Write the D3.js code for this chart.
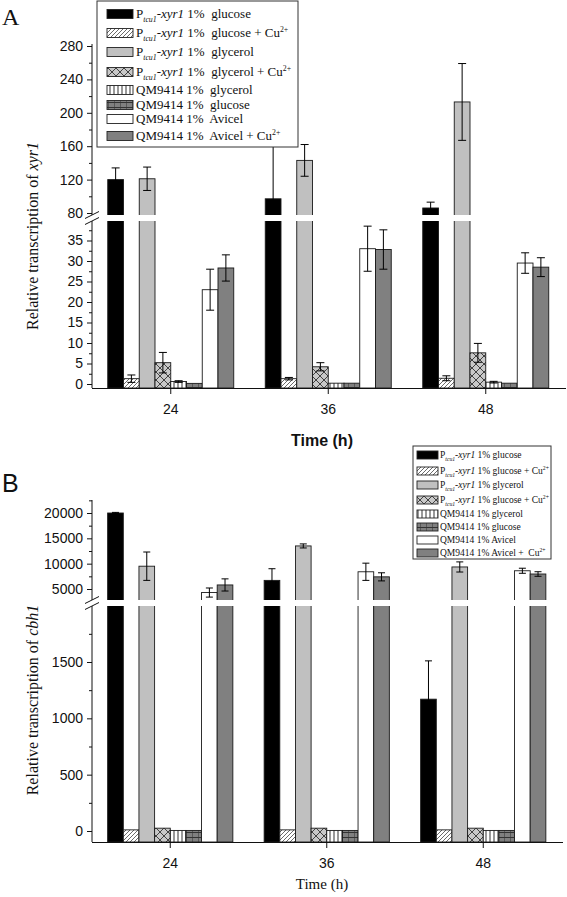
<!DOCTYPE html>
<html><head><meta charset="utf-8">
<script src="https://cdn.jsdelivr.net/npm/d3@7"></script>
<style>body{margin:0;background:#fff} svg{display:block}</style>
</head><body>
<script>
// ---------------- DATA ----------------
const times = ["24", "36", "48"];
const seriesKeys = ["tcuGlc", "tcuGlcCu", "tcuGly", "tcuGlyCu", "qmGly", "qmGlc", "qmAvi", "qmAviCu"];

// Panel A: relative transcription of xyr1 (rows = time, cols = series)
const xyr1Values = [
  [120, 1.3, 121, 5.2, 0.6, 0.15, 23, 28.3],
  [97, 1.3, 143, 4.2, 0.2, 0.2, 33, 32.8],
  [86, 1.4, 213, 7.6, 0.45, 0.2, 29.5, 28.5]
];
const xyr1Errors = [
  [14, 0.9, 14, 2.5, 0.2, 0, 5, 3.2],
  [63, 0.3, 19, 1.0, 0, 0, 5.5, 4.8],
  [7, 0.6, 46, 2.3, 0.2, 0, 2.5, 2.3]
];
// Panel B: relative transcription of cbh1
const cbh1Values = [
  [20000, 10, 9500, 25, 5, 5, 4300, 5800],
  [6700, 10, 13500, 25, 5, 5, 8400, 7400],
  [1170, 10, 9350, 25, 5, 5, 8600, 7960]
];
const cbh1Errors = [
  [120, 0, 2800, 0, 0, 0, 900, 1200],
  [2300, 0, 400, 0, 0, 0, 1700, 800],
  [340, 0, 1000, 0, 0, 0, 500, 450]
];

const xyr1LowTicks = [0, 5, 10, 15, 20, 25, 30, 35];
const xyr1LowMinor = [2.5, 7.5, 12.5, 17.5, 22.5, 27.5, 32.5, 37.5];
const xyr1HighTicks = [80, 120, 160, 200, 240, 280];
const xyr1HighMinor = [100, 140, 180, 220, 260];
const cbh1LowTicks = [0, 500, 1000, 1500];
const cbh1LowMinor = [250, 750, 1250, 1750];
const cbh1HighTicks = [5000, 10000, 15000, 20000];
const cbh1HighMinor = [7500, 12500, 17500, 22500];

// legend labels: [text, style]  style: "" normal, i italic, sub subscript, sup superscript
const legendLabelsA = [
  [["P", ""], ["tcu1", "sub"], ["-xyr1", "i"], [" 1%  glucose", ""]],
  [["P", ""], ["tcu1", "sub"], ["-xyr1", "i"], [" 1%  glucose + Cu", ""], ["2+", "sup"]],
  [["P", ""], ["tcu1", "sub"], ["-xyr1", "i"], [" 1%  glycerol", ""]],
  [["P", ""], ["tcu1", "sub"], ["-xyr1", "i"], [" 1%  glycerol + Cu", ""], ["2+", "sup"]],
  [["QM9414 1%  glycerol", ""]],
  [["QM9414 1%  glucose", ""]],
  [["QM9414 1%  Avicel", ""]],
  [["QM9414 1%  Avicel + Cu", ""], ["2+", "sup"]]
];
const legendLabelsB = [
  [["P", ""], ["tcu1", "sub"], ["-xyr1", "i"], [" 1% glucose", ""]],
  [["P", ""], ["tcu1", "sub"], ["-xyr1", "i"], [" 1% glucose + Cu", ""], ["2+", "sup"]],
  [["P", ""], ["tcu1", "sub"], ["-xyr1", "i"], [" 1% glycerol", ""]],
  [["P", ""], ["tcu1", "sub"], ["-xyr1", "i"], [" 1% glucose + Cu", ""], ["2+", "sup"]],
  [["QM9414 1% glycerol", ""]],
  [["QM9414 1% glucose", ""]],
  [["QM9414 1% Avicel", ""]],
  [["QM9414 1% Avicel +  Cu", ""], ["2+", "sup"]]
];

// ---------------- DRAWING ----------------
const W = 567, H = 897;
const svg = d3.select("body").append("svg").attr("width", W).attr("height", H)
  .style("font-family", "'Liberation Sans', Arial, sans-serif");
const defs = svg.append("defs");
function pat(id, w, h, bg, d, sw, stroke) {
  const p = defs.append("pattern").attr("id", id).attr("patternUnits", "userSpaceOnUse")
    .attr("width", w).attr("height", h);
  p.append("rect").attr("width", w).attr("height", h).attr("fill", bg);
  p.append("path").attr("d", d).attr("stroke", stroke).attr("stroke-width", sw).attr("fill", "none");
}
pat("hatch", 4, 4, "#fff", "M-1,1L1,-1M0,4L4,0M3,5L5,3", 0.8, "#444");
pat("cross", 8, 8, "#c8c8c8", "M0,0L8,8M8,0L0,8", 0.9, "#333");
pat("vert", 4, 4, "#fff", "M2,0V4", 1, "#333");
pat("grid", 6, 5, "#808080", "M0,0V5M0,2.5H6", 1, "#333");
const fills = ["#000", "url(#hatch)", "#c0c0c0", "url(#cross)", "url(#vert)", "url(#grid)", "#fff", "#808080"];

function drawPanel(cfg) {
  const g = svg.append("g");
  const x0 = d3.scaleBand().domain(times).range(cfg.xRange).paddingInner(0.2).paddingOuter(0.1);
  const x1 = d3.scaleBand().domain(d3.range(seriesKeys.length)).range([0, x0.bandwidth()]);
  const yLow = d3.scaleLinear().domain(cfg.low.domain).range(cfg.low.range);
  const yHigh = d3.scaleLinear().domain(cfg.high.domain).range(cfg.high.range);
  const lowMax = yLow.invert(cfg.lowTop);
  const highMin = yHigh.invert(cfg.highBottom);
  const yOf = v => v <= lowMax ? yLow(v) : yHigh(v);
  const base = cfg.axisY;

  const cells = [];
  times.forEach((t, i) => cfg.values[i].forEach((v, j) => cells.push({t, j, v, e: cfg.errors[i][j]})));

  g.selectAll("rect.bar").data(cells).join("rect").attr("class", "bar")
    .attr("x", d => x0(d.t) + x1(d.j))
    .attr("width", x1.bandwidth())
    .attr("y", d => yOf(d.v))
    .attr("height", d => base - yOf(d.v))
    .attr("fill", d => fills[d.j])
    .attr("stroke", "#1a1a1a").attr("stroke-width", 0.9);

  // error bars
  const eb = g.selectAll("g.err").data(cells.filter(d => d.e > 0)).join("g").attr("class", "err")
    .attr("stroke", cfg.errColor).attr("stroke-width", 1);
  eb.each(function(d) {
    const cx = x0(d.t) + x1(d.j) + x1.bandwidth() / 2;
    const inHigh = d.v > lowMax;
    const sc = inHigh ? yHigh : yLow;
    const lo = inHigh ? Math.max(d.v - d.e, highMin) : Math.max(d.v - d.e, 0);
    const hi = d.v + d.e;
    const s = d3.select(this);
    s.append("line").attr("x1", cx).attr("x2", cx).attr("y1", sc(lo)).attr("y2", sc(hi));
    s.append("line").attr("x1", cx - cfg.cap).attr("x2", cx + cfg.cap).attr("y1", sc(hi)).attr("y2", sc(hi));
    if (lo === d.v - d.e)
      s.append("line").attr("x1", cx - cfg.cap).attr("x2", cx + cfg.cap).attr("y1", sc(lo)).attr("y2", sc(lo));
  });

  // axis break gap
  g.append("rect").attr("x", cfg.xRange[0] + 1).attr("y", cfg.highBottom)
    .attr("width", W - cfg.xRange[0]).attr("height", cfg.lowTop - cfg.highBottom).attr("fill", "#fff");

  // y axes
  const ax0 = cfg.xRange[0];
  function yAxis(scale, ticks, minor) {
    const a = g.append("g").attr("transform", `translate(${ax0},0)`)
      .call(d3.axisLeft(scale).tickValues(ticks).tickSize(5).tickPadding(4).tickFormat(d3.format("d")));
    a.select(".domain").remove();
    a.selectAll("text").attr("font-size", 14).attr("fill", "#111").attr("font-family", "'Liberation Sans', Arial, sans-serif");
    a.selectAll("line").attr("stroke", "#111");
    const m = g.append("g").attr("transform", `translate(${ax0},0)`)
      .call(d3.axisLeft(scale).tickValues(minor).tickSize(3).tickFormat(""));
    m.select(".domain").remove();
    m.selectAll("line").attr("stroke", "#111");
  }
  yAxis(yLow, cfg.low.ticks, cfg.low.minor);
  yAxis(yHigh, cfg.high.ticks, cfg.high.minor);
  g.append("line").attr("x1", ax0).attr("x2", ax0).attr("y1", base).attr("y2", cfg.lowTop).attr("stroke", "#111");
  g.append("line").attr("x1", ax0).attr("x2", ax0).attr("y1", cfg.highBottom).attr("y2", cfg.highTop).attr("stroke", "#111");
  // break marks
  [cfg.highBottom, cfg.lowTop].forEach(yy => {
    g.append("line").attr("x1", ax0 - 7).attr("y1", yy + 3.5).attr("x2", ax0 + 7).attr("y2", yy - 3.5)
      .attr("stroke", "#111").attr("stroke-width", 1);
  });

  // x axis
  const xa = g.append("g").attr("transform", `translate(0,${base})`)
    .call(d3.axisBottom(x0).tickSize(6).tickSizeOuter(0).tickPadding(10));
  xa.select(".domain").attr("stroke", "#111").attr("d", `M${ax0},0.5H${cfg.xEnd}`);
  xa.selectAll("text").attr("font-size", 14).attr("fill", "#111").attr("font-family", "'Liberation Sans', Arial, sans-serif");
  xa.selectAll("line").attr("stroke", "#111");

  // titles
  const yt = g.append("text").attr("transform", `translate(${cfg.yTitle[0]},${cfg.yTitle[1]}) rotate(-90)`)
    .attr("text-anchor", "middle").attr("font-family", "'Liberation Serif', 'Times New Roman', serif")
    .attr("font-size", cfg.yTitleSize).attr("fill", "#111");
  yt.append("tspan").text("Relative transcription of ");
  yt.append("tspan").attr("font-style", "italic").text(cfg.gene);

  g.append("text").attr("x", cfg.xTitle[0]).attr("y", cfg.xTitle[1]).attr("text-anchor", "middle")
    .attr("font-family", cfg.xTitleFont).attr("font-weight", cfg.xTitleWeight)
    .attr("font-size", cfg.xTitleSize).attr("fill", "#111").text("Time (h)");

  g.append("text").attr("x", cfg.letter[0]).attr("y", cfg.letter[1])
    .attr("font-family", cfg.letterFont).attr("font-size", cfg.letterSize).attr("fill", "#111").text(cfg.letterText);

  // legend
  const L = cfg.legend;
  const lg = g.append("g");
  lg.append("rect").attr("x", L.x).attr("y", L.y).attr("width", L.w).attr("height", L.h)
    .attr("fill", "#fff").attr("stroke", "#333").attr("stroke-width", 1);
  L.labels.forEach((parts, k) => {
    const cy = L.rows[k];
    lg.append("rect").attr("x", L.sx).attr("y", cy - L.sh / 2).attr("width", L.sw).attr("height", L.sh)
      .attr("fill", fills[k]).attr("stroke", "#222").attr("stroke-width", 0.9);
    const t = lg.append("text").attr("x", L.tx).attr("y", cy + L.fs * 0.33)
      .attr("font-family", "'Liberation Serif', 'Times New Roman', serif")
      .attr("font-size", L.fs).attr("fill", "#111").style("white-space", "pre");
    let shift = 0;
    parts.forEach(([txt, st]) => {
      const ts = t.append("tspan").text(txt);
      let target = 0;
      if (st === "sub") { target = L.fs * 0.3; ts.attr("font-size", L.fs * 0.6).attr("font-style", "italic"); }
      else if (st === "sup") { target = -L.fs * 0.4; ts.attr("font-size", L.fs * 0.6); }
      else if (st === "i") ts.attr("font-style", "italic");
      if (target !== shift) { ts.attr("dy", target - shift); shift = target; }
    });
  });
}

drawPanel({
  values: xyr1Values, errors: xyr1Errors, gene: "xyr1",
  xRange: [92, 564.5], xEnd: 566, axisY: 388,
  low: {domain: [0, 35], range: [384, 240.5], ticks: xyr1LowTicks, minor: xyr1LowMinor},
  high: {domain: [80, 280], range: [213, 46], ticks: xyr1HighTicks, minor: xyr1HighMinor},
  lowTop: 221, highBottom: 215, highTop: 44,
  cap: 4, errColor: "#000",
  yTitle: [38, 236], yTitleSize: 16,
  xTitle: [322, 446], xTitleFont: "'Liberation Sans', Arial, sans-serif", xTitleWeight: "bold", xTitleSize: 16,
  letter: [2, 25], letterFont: "'Liberation Serif', serif", letterSize: 24, letterText: "A",
  legend: {x: 97, y: 1, w: 201, h: 146, sx: 107, sw: 26, sh: 9, tx: 136, fs: 13,
    rows: [14, 33, 52, 72, 90, 105, 119, 136], labels: legendLabelsA}
});

drawPanel({
  values: cbh1Values, errors: cbh1Errors, gene: "cbh1",
  xRange: [92, 561.5], xEnd: 563, axisY: 842,
  low: {domain: [0, 1500], range: [831, 662], ticks: cbh1LowTicks, minor: cbh1LowMinor},
  high: {domain: [5000, 20000], range: [589, 513], ticks: cbh1HighTicks, minor: cbh1HighMinor},
  lowTop: 606, highBottom: 600, highTop: 500,
  cap: 3.5, errColor: "#000",
  yTitle: [38, 700], yTitleSize: 16,
  xTitle: [322, 889], xTitleFont: "'Liberation Serif', 'Times New Roman', serif", xTitleWeight: "normal", xTitleSize: 15,
  letter: [2, 492], letterFont: "'Liberation Sans', Arial, sans-serif", letterSize: 25, letterText: "B",
  legend: {x: 413, y: 446, w: 138, h: 113, sx: 417, sw: 21, sh: 8, tx: 440, fs: 9.5,
    rows: [455, 471, 485, 500, 514, 527, 540, 553], labels: legendLabelsB}
});
</script>
</body></html>
